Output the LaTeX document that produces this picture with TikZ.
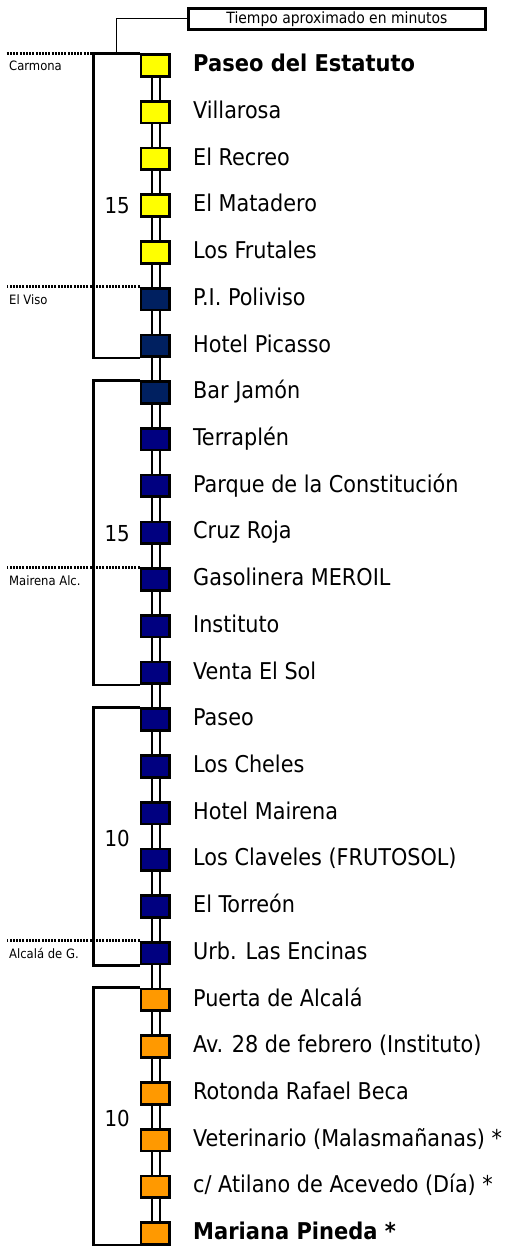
\documentclass[tikz,border=0pt]{standalone}
\usepackage{fontspec}
\setmainfont{DejaVu Sans Condensed}[BoldFont={DejaVu Sans Bold},BoldFeatures={FakeStretch=0.91}]
\usetikzlibrary{calc}
\definecolor{cyel}{RGB}{255,255,0}
\definecolor{cdark}{RGB}{0,32,96}
\definecolor{cnavy}{RGB}{0,0,128}
\definecolor{corange}{RGB}{255,153,0}
\begin{document}
\begin{tikzpicture}[x=1pt,y=-1pt,
  stopbox/.style={draw=black,line width=2.7pt,minimum width=28.3pt,minimum height=21.7pt,inner sep=0pt,outer sep=1.35pt},
  stationlbl/.style={anchor=base west,inner sep=0pt,font=\fontsize{23.1}{26}\selectfont},
  numlbl/.style={anchor=base east,inner sep=0pt,font=\fontsize{22}{24}\selectfont},
  townlbl/.style={anchor=base west,inner sep=0pt,font=\fontsize{12.9}{14}\selectfont},
  bracketln/.style={draw=black,line width=2.7pt},
  dotln/.style={draw=black,line width=3pt,dash pattern=on 2pt off 1.2pt},
  railbox/.style={draw=black,fill=white,line width=2.2pt},
  titlebox/.style={draw=black,line width=2.7pt,minimum width=297.3pt,minimum height=21.3pt,inner sep=0pt,font=\fontsize{15.5}{17}\selectfont},
  thinln/.style={draw=black,line width=1pt}]
\useasboundingbox (0,0) rectangle (507,1246);
% stations
\foreach \i/\c/\t in {0/cyel/{\bfseries Paseo del Estatuto},1/cyel/Villarosa,2/cyel/El Recreo,3/cyel/El Matadero,4/cyel/Los Frutales,5/cdark/P.I. Poliviso,6/cdark/Hotel Picasso,7/cdark/Bar Jamón,8/cnavy/Terraplén,9/cnavy/Parque de la Constitución,10/cnavy/Cruz Roja,11/cnavy/Gasolinera MEROIL,12/cnavy/Instituto,13/cnavy/Venta El Sol,14/cnavy/Paseo,15/cnavy/Los Cheles,16/cnavy/Hotel Mairena,17/cnavy/Los Claveles (FRUTOSOL),18/cnavy/El Torreón,19/cnavy/Urb. Las Encinas,20/corange/Puerta de Alcalá,21/corange/Av. 28 de febrero (Instituto),22/corange/Rotonda Rafael Beca,23/corange/Veterinario (Malasmañanas) *,24/corange/{c/ Atilano de Acevedo (Día) *},25/corange/{\bfseries Mariana Pineda *}}{
  \pgfmathsetmacro\yy{65.5+46.72*\i}
  \coordinate (p\i) at (155,\yy);
  \node[stationlbl] (t\i) at (193,\yy+6.2) {\t};
}
% rail
\draw[railbox] ($(p0)+(-2.9,0)$) rectangle ($(p25)+(4.9,0)$);
\foreach \i/\c in {0/cyel,1/cyel,2/cyel,3/cyel,4/cyel,5/cdark,6/cdark,7/cdark,8/cnavy,9/cnavy,10/cnavy,11/cnavy,12/cnavy,13/cnavy,14/cnavy,15/cnavy,16/cnavy,17/cnavy,18/cnavy,19/cnavy,20/corange,21/corange,22/corange,23/corange,24/corange,25/corange}{
  \node[stopbox,fill=\c] (s\i) at (p\i) {};
}
% brackets
\draw[bracketln] (s0.north west) -- ++(-45.7,0) coordinate (g1a) |- (s6.south west);
\draw[bracketln] (s7.north west) -- ++(-45.7,0) coordinate (g2a) |- (s13.south west);
\draw[bracketln] (s14.north west) -- ++(-45.7,0) coordinate (g3a) |- (s19.south west);
\draw[bracketln] (s20.north west) -- ++(-45.7,0) coordinate (g4a) |- (s25.south west);
% numbers
\node[numlbl] (n1) at (130,214) {15};
\node[numlbl] (n2) at (130,541) {15};
\node[numlbl] (n3) at (130,846) {10};
\node[numlbl] (n4) at (130,1126.7) {10};
% dotted town lines
\coordinate (d1) at (6.7,53.3);
\draw[dotln] (d1) -- (g1a);
\draw[dotln] (s5.north west) -- (6.7,0 |- s5.north west);
\draw[dotln] (s11.north west) -- (6.7,0 |- s11.north west);
\draw[dotln] (s19.north west) -- (6.7,0 |- s19.north west);
\node[townlbl] (c1) at (9,71) {Carmona};
\node[townlbl] (c2) at (9,304.6) {El Viso};
\node[townlbl] (c3) at (9,585) {Mairena Alc.};
\node[townlbl] (c4) at (9,958.7) {Alcalá de G.};
% title box
\node[titlebox] (tb) at (337,19) {Tiempo aproximado en minutos};
\coordinate (g1m) at ($(s0.north west)+(-22.7,0)$);
\draw[thinln] (tb.west) -| (g1m);
\end{tikzpicture}
\end{document}
